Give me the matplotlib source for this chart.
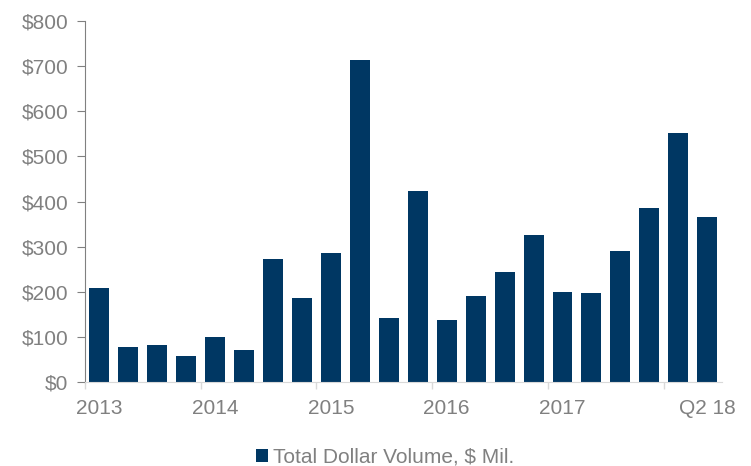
import matplotlib
matplotlib.use("Agg")
import matplotlib.pyplot as plt
from matplotlib.ticker import FuncFormatter, FixedLocator
import numpy as np

plt.rcParams['font.family'] = ['Liberation Sans', 'DejaVu Sans']

values = [208, 77, 82, 58, 100, 71, 273, 186, 286, 714, 142, 423,
          137, 190, 244, 326, 200, 197, 290, 386, 552, 366]
label_idx = [0, 4, 8, 12, 16, 21]
labels = ["2013", "2014", "2015", "2016", "2017", "Q2 18"]
series_name = "Total Dollar Volume, $ Mil."

bar_color = "#003763"
gray = "#808080"

fig = plt.figure(figsize=(7.51, 4.66), dpi=100)
ax = fig.add_axes([0.113, 0.180, 0.848, 0.775])

x = np.arange(len(values))
ax.bar(x, values, width=0.69, color=bar_color, label=series_name, zorder=2)

ax.set_xlim(-0.5, len(values) - 0.5)
ax.set_ylim(0, 800)
ax.set_yticks(range(0, 801, 100))
ax.yaxis.set_major_formatter(FuncFormatter(lambda v, p: f"${int(v)}"))

ax.set_xticks(label_idx)
ax.set_xticklabels(labels)
ax.xaxis.set_minor_locator(FixedLocator([-0.5, 3.5, 7.5, 11.5, 15.5, 19.5]))
ax.tick_params(axis='x', which='major', length=0, pad=12, labelsize=15, labelcolor=gray)
ax.tick_params(axis='x', which='minor', length=5, color="#d9d9d9", width=1)
ax.tick_params(axis='y', length=6, color=gray, labelsize=15, labelcolor=gray, pad=6)

for s in ['top', 'right']:
    ax.spines[s].set_visible(False)
ax.spines['left'].set_color(gray)
ax.spines['bottom'].set_color("#d9d9d9")

fig.legend(loc='lower center', bbox_to_anchor=(0.513, -0.042), frameon=False,
           fontsize=15, labelcolor=gray, handlelength=0.55, handleheight=0.55,
           handletextpad=0.25)

fig.savefig("out.png", dpi=100)
